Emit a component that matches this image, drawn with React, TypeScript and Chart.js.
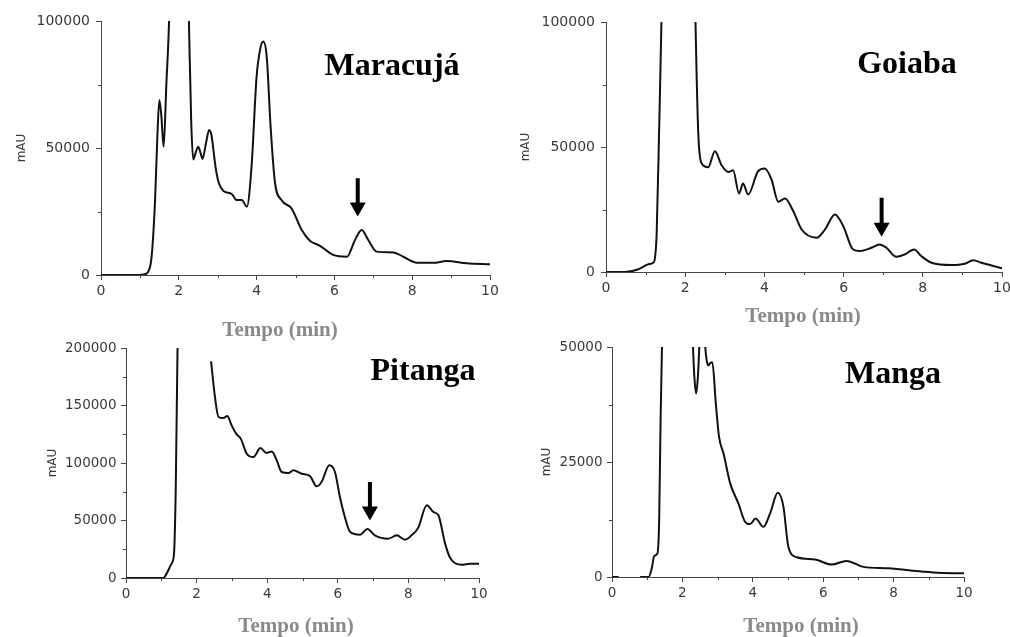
import React, { useEffect, useRef } from "react";
import { Chart, registerables } from "chart.js";

Chart.register(...registerables);

// ---------- data (time in min, signal in mAU; null = trace break) ----------
const maracujaTime = [0, 0.5, 1.0, 1.1, 1.2, 1.3, 1.39, 1.45, 1.5, 1.55, 1.61, 1.68, 1.75, 1.9, 2.1, 2.26, 2.32, 2.37, 2.44, 2.5, 2.56, 2.61, 2.7, 2.78, 2.84, 2.89, 2.95, 3.02, 3.15, 3.36, 3.49, 3.62, 3.75, 3.87, 4.0, 4.1, 4.17, 4.26, 4.36, 4.47, 4.64, 4.9, 5.16, 5.37, 5.63, 5.97, 6.32, 6.53, 6.7, 6.87, 7.09, 7.52, 7.77, 8.12, 8.54, 8.89, 9.4, 10.0];
const maracujaSignal = [0, 0, 0, 200, 1000, 7000, 29500, 55000, 68900, 63000, 50500, 75000, 100000, 200000, 200000, 100000, 60000, 45500, 48500, 50500, 48000, 45700, 52000, 57100, 55000, 49200, 42000, 36700, 33100, 31900, 29500, 29500, 26900, 42600, 78100, 89500, 91900, 86000, 58400, 36700, 29500, 26200, 17700, 13500, 11500, 7900, 7200, 13800, 17700, 13800, 9200, 8900, 7200, 4800, 4800, 5500, 4600, 4200];

const goiabaTime = [0, 0.48, 0.82, 1.07, 1.19, 1.24, 1.28, 1.34, 1.4, 1.55, 2.1, 2.26, 2.33, 2.41, 2.58, 2.75, 2.92, 3.09, 3.21, 3.36, 3.46, 3.59, 3.84, 4.01, 4.18, 4.35, 4.52, 4.73, 4.94, 5.32, 5.53, 5.78, 5.99, 6.24, 6.41, 6.7, 6.91, 7.08, 7.33, 7.54, 7.78, 7.96, 8.22, 8.72, 9.06, 9.27, 9.48, 10.0];
const goiabaSignal = [0, 0, 1100, 3100, 3700, 6000, 15700, 55600, 100000, 250000, 250000, 100000, 55600, 43600, 41900, 48300, 42700, 40000, 40700, 31400, 35400, 31000, 40300, 41400, 37000, 28100, 29400, 24300, 17000, 13700, 17000, 23000, 18400, 9000, 8400, 9700, 11000, 9700, 6100, 7000, 9000, 6400, 3700, 2800, 3300, 4700, 3700, 1500];

const pitangaTime = [0, 1.06, 1.15, 1.29, 1.36, 1.41, 1.46, 1.5, 2.0, 2.41, 2.52, 2.62, 2.76, 2.87, 2.99, 3.12, 3.25, 3.42, 3.61, 3.81, 3.98, 4.13, 4.27, 4.41, 4.6, 4.74, 4.98, 5.21, 5.4, 5.54, 5.76, 5.92, 6.06, 6.2, 6.35, 6.63, 6.84, 7.05, 7.43, 7.67, 7.9, 8.09, 8.28, 8.52, 8.71, 8.85, 9.04, 9.18, 9.51, 9.75, 10.0];
const pitangaSignal = [0, 0, 3800, 12500, 21200, 79100, 200000, 260000, null, 188400, 157400, 140000, 139100, 140900, 132800, 125500, 121200, 108100, 105200, 113000, 108700, 110100, 102300, 92200, 91300, 93600, 90700, 88700, 79700, 83500, 98000, 92200, 70400, 53000, 40000, 37700, 42600, 37100, 34200, 37100, 33300, 37100, 43800, 63200, 57400, 54500, 29900, 17700, 11600, 12500, 12500];

const mangaTime = [0, 0.19, 0.5, 0.8, 1.04, 1.13, 1.2, 1.29, 1.34, 1.38, 1.42, 1.46, 1.8, 2.27, 2.3, 2.34, 2.39, 2.44, 2.48, 2.51, 2.57, 2.63, 2.65, 2.69, 2.74, 2.79, 2.85, 2.95, 3.04, 3.17, 3.36, 3.59, 3.78, 3.92, 4.08, 4.3, 4.49, 4.71, 4.87, 5.01, 5.25, 5.77, 6.24, 6.66, 7.14, 7.85, 8.79, 9.26, 10.0];
const mangaSignal = [0, 0, null, 0, 0, 1900, 4600, 5100, 12400, 34100, 50000, 62000, null, 56000, 50000, 43500, 39900, 43500, 50000, 56000, null, 53000, 50000, 47100, 46000, 46500, 46700, 37700, 30500, 26800, 20300, 16000, 12000, 11500, 12700, 10900, 13800, 18300, 15300, 6600, 4300, 3800, 2700, 3500, 2200, 1900, 1200, 900, 800];

// arrows marking the peak of interest (time, arrow tail signal, arrow tip signal)
const arrowTime = [6.6, 6.96, 6.91];
const arrowTail = [38100, 29700, 83500];
const arrowTip = [23000, 14100, 50100];

const panelNames = ["Maracujá", "Goiaba", "Pitanga", "Manga"];
const yMaxValues = [100000, 100000, 200000, 50000];
const yStepValues = [50000, 50000, 50000, 25000];
const xAxisTitle = "Tempo (min)";
const yAxisTitle = "mAU";

// ---------- layout (pixels) ----------
const CW = 1030;
const CH = 660;
const Y_AXIS_W = 100;
const X_AXIS_H = 30;

const layouts = [
  { left: 101, right: 490, top: 21, bottom: 275, yTitleX: 22, tickPad: 6, tickSize: 14, nameDx: -98, nameDy: 54, xtDx: -15.5, xtDy: 60.5 },
  { left: 606, right: 1002, top: 22, bottom: 272, yTitleX: 525.5, tickPad: 6, tickSize: 14, nameDx: -95, nameDy: 51, xtDx: -1, xtDy: 50 },
  { left: 126, right: 479, top: 348, bottom: 578, yTitleX: 52.5, tickPad: 4.5, tickSize: 13.5, nameDx: -56, nameDy: 32, xtDx: -6.5, xtDy: 54 },
  { left: 612, right: 964, top: 347, bottom: 577, yTitleX: 546.7, tickPad: 4.5, tickSize: 13.5, nameDx: -71, nameDy: 36, xtDx: 13, xtDy: 55 },
];

const seriesTimes = [maracujaTime, goiabaTime, pitangaTime, mangaTime];
const seriesSignals = [maracujaSignal, goiabaSignal, pitangaSignal, mangaSignal];

const AXIS_COLOR = "#454545";
const TEXT_COLOR = "#3a3a3a";

function makeChart(canvas: HTMLCanvasElement, i: number) {
  const L = layouts[i];
  const points = seriesTimes[i].map((t, k) => ({ x: t, y: seriesSignals[i][k] }));
  const padLeft = L.left - Y_AXIS_W;

  const overlay = {
    id: "overlay" + i,
    afterDatasetsDraw(chart: any) {
      const ctx = chart.ctx;
      const xs = chart.scales.x;
      const ys = chart.scales.y;
      const area = chart.chartArea;
      ctx.save();
      // minor ticks
      ctx.strokeStyle = AXIS_COLOR;
      ctx.lineWidth = 1;
      const yt = ys.ticks;
      for (let k = 0; k < yt.length - 1; k++) {
        const py = Math.round(ys.getPixelForValue((yt[k].value + yt[k + 1].value) / 2)) + 0.5;
        ctx.beginPath();
        ctx.moveTo(area.left, py);
        ctx.lineTo(area.left - 3, py);
        ctx.stroke();
      }
      const xt = xs.ticks;
      for (let k = 0; k < xt.length - 1; k++) {
        const px = Math.round(xs.getPixelForValue((xt[k].value + xt[k + 1].value) / 2)) + 0.5;
        ctx.beginPath();
        ctx.moveTo(px, area.bottom);
        ctx.lineTo(px, area.bottom + 3);
        ctx.stroke();
      }
      // arrow
      if (i < arrowTime.length) {
        const ax = xs.getPixelForValue(arrowTime[i]);
        const aTop = ys.getPixelForValue(arrowTail[i]);
        const aTip = ys.getPixelForValue(arrowTip[i]);
        const headH = 14;
        const headW = 8;
        ctx.fillStyle = "#000";
        ctx.fillRect(ax - 2, aTop, 4, aTip - headH - aTop + 1);
        ctx.beginPath();
        ctx.moveTo(ax - headW, aTip - headH);
        ctx.lineTo(ax + headW, aTip - headH);
        ctx.lineTo(ax, aTip);
        ctx.closePath();
        ctx.fill();
      }
      // panel name
      ctx.fillStyle = "#000";
      ctx.font = 'bold 32px "Liberation Serif", "Times New Roman", serif';
      ctx.textAlign = "center";
      ctx.textBaseline = "alphabetic";
      ctx.fillText(panelNames[i], area.right + L.nameDx, area.top + L.nameDy);
      // x axis title
      ctx.fillStyle = "#8a8a8a";
      ctx.font = 'bold 21px "Liberation Serif", "Times New Roman", serif';
      ctx.fillText(xAxisTitle, (area.left + area.right) / 2 + L.xtDx, area.bottom + L.xtDy);
      ctx.restore();
    },
  };

  return new Chart(canvas, {
    type: "line",
    data: {
      datasets: [
        {
          data: points as any,
          borderColor: "#111",
          borderWidth: 2,
          pointRadius: 0,
          cubicInterpolationMode: "monotone",
          spanGaps: false,
          fill: false,
        },
      ],
    },
    options: {
      animation: false,
      responsive: false,
      devicePixelRatio: 1,
      events: [],
      layout: {
        padding: {
          left: padLeft,
          top: L.top,
          right: CW - L.right,
          bottom: CH - L.bottom - X_AXIS_H,
        },
      },
      plugins: { legend: { display: false }, tooltip: { enabled: false }, title: { display: false } },
      scales: {
        x: {
          type: "linear",
          min: 0,
          max: 10,
          afterFit: (s: any) => {
            s.height = X_AXIS_H;
          },
          border: { display: true, color: AXIS_COLOR, width: 1 },
          grid: { display: true, drawOnChartArea: false, drawTicks: true, tickLength: 5, color: AXIS_COLOR },
          ticks: {
            stepSize: 2,
            autoSkip: false,
            maxRotation: 0,
            padding: 3,
            color: TEXT_COLOR,
            font: { family: '"DejaVu Sans", sans-serif', size: L.tickSize },
            callback: (v: any) => String(v),
          },
        },
        y: {
          type: "linear",
          min: 0,
          max: yMaxValues[i],
          afterFit: (s: any) => {
            s.width = Y_AXIS_W;
          },
          border: { display: true, color: AXIS_COLOR, width: 1 },
          grid: { display: true, drawOnChartArea: false, drawTicks: true, tickLength: 5, color: AXIS_COLOR },
          ticks: {
            stepSize: yStepValues[i],
            autoSkip: false,
            padding: L.tickPad,
            color: TEXT_COLOR,
            font: { family: '"DejaVu Sans", sans-serif', size: L.tickSize },
            callback: (v: any) => String(v),
          },
          title: {
            display: true,
            text: yAxisTitle,
            color: TEXT_COLOR,
            font: { family: '"DejaVu Sans", sans-serif', size: 12 },
            padding: { top: L.yTitleX - padLeft - 7.2, bottom: 0 },
          },
        },
      },
    },
    plugins: [overlay],
  } as any);
}

function Panel({ index }: { index: number }) {
  const ref = useRef<HTMLCanvasElement | null>(null);
  useEffect(() => {
    if (!ref.current) return;
    const chart = makeChart(ref.current, index);
    return () => chart.destroy();
  }, [index]);
  return (
    <canvas
      ref={ref}
      width={CW}
      height={CH}
      style={{ position: "absolute", left: 0, top: 0, width: CW, height: CH }}
    />
  );
}

export default function App() {
  return (
    <div
      style={{
        position: "absolute",
        left: 0,
        top: 0,
        width: 1010,
        height: 637,
        overflow: "hidden",
        background: "#fff",
      }}
    >
      {[0, 1, 2, 3].map((i) => (
        <Panel key={i} index={i} />
      ))}
    </div>
  );
}
